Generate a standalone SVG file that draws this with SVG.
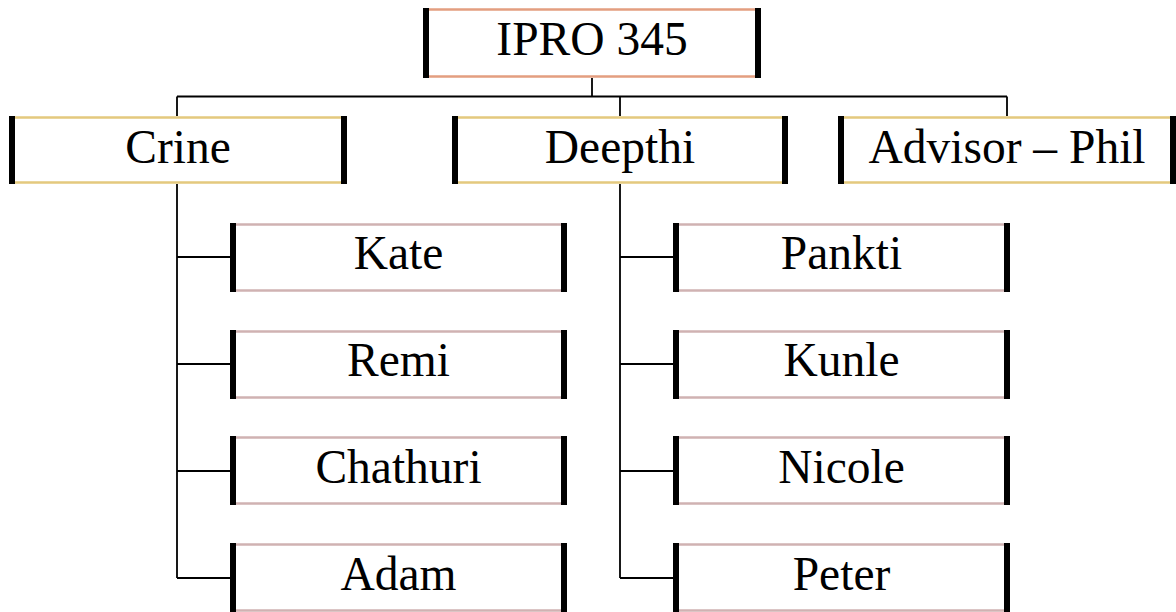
<svg xmlns="http://www.w3.org/2000/svg" width="1176" height="612" viewBox="0 0 1176 612">
<style>
.bg{fill:#ffffff}
.bar{fill:#000000}
.edge{stroke-width:2.5;fill:none}
.salmon{stroke:#E39E80}
.gold{stroke:#E4C97E}
.rose{stroke:#D0B2B2}
.lbl{font-size:47.5px;fill:#000;text-anchor:middle}
.conn{stroke:#000;stroke-width:1.8;fill:none}
</style>
<rect x="0" y="0" width="1176" height="612" fill="#ffffff"/>
<g id="connectors">
<path class="conn" d="M592,78 V96.5 M177,96.5 H1007 M177,96.5 V116 M620,96.5 V116 M1007,96.5 V116"/>
<path class="conn" d="M177,184 V578 M177,257 H231 M177,364 H231 M177,471 H231 M177,578 H231"/>
<path class="conn" d="M620,184 V578 M620,257 H674 M620,364 H674 M620,471 H674 M620,578 H674"/>
</g>
<g font-family="Liberation Serif, Times New Roman, Times, DejaVu Serif, serif">
<g id="ipro">
<rect class="bg" x="423" y="8" width="338" height="70"/>
<path class="edge salmon" d="M429,9.5 H755 M429,76.5 H755"/>
<rect class="bar" x="423" y="8" width="6" height="70"/>
<rect class="bar" x="755" y="8" width="6" height="70"/>
<text class="lbl" x="592" y="55">IPRO 345</text>
</g>
<g id="crine">
<rect class="bg" x="9" y="116" width="338" height="68"/>
<path class="edge gold" d="M15,117.5 H341 M15,182.5 H341"/>
<rect class="bar" x="9" y="116" width="6" height="68"/>
<rect class="bar" x="341" y="116" width="6" height="68"/>
<text class="lbl" x="178" y="163">Crine</text>
</g>
<g id="deepthi">
<rect class="bg" x="452" y="116" width="336" height="68"/>
<path class="edge gold" d="M458,117.5 H782 M458,182.5 H782"/>
<rect class="bar" x="452" y="116" width="6" height="68"/>
<rect class="bar" x="782" y="116" width="6" height="68"/>
<text class="lbl" x="620" y="163">Deepthi</text>
</g>
<g id="advisor">
<rect class="bg" x="838" y="116" width="338" height="68"/>
<path class="edge gold" d="M844,117.5 H1170 M844,182.5 H1170"/>
<rect class="bar" x="838" y="116" width="6" height="68"/>
<rect class="bar" x="1170" y="116" width="6" height="68"/>
<text class="lbl" x="1007" y="163">Advisor – Phil</text>
</g>
<g id="kate">
<rect class="bg" x="230" y="223" width="337" height="69"/>
<path class="edge rose" d="M236,224.5 H561 M236,290.5 H561"/>
<rect class="bar" x="230" y="223" width="6" height="69"/>
<rect class="bar" x="561" y="223" width="6" height="69"/>
<text class="lbl" x="398.5" y="269">Kate</text>
</g>
<g id="remi">
<rect class="bg" x="230" y="330" width="337" height="69"/>
<path class="edge rose" d="M236,331.5 H561 M236,397.5 H561"/>
<rect class="bar" x="230" y="330" width="6" height="69"/>
<rect class="bar" x="561" y="330" width="6" height="69"/>
<text class="lbl" x="398.5" y="376">Remi</text>
</g>
<g id="chathuri">
<rect class="bg" x="230" y="436" width="337" height="69"/>
<path class="edge rose" d="M236,437.5 H561 M236,503.5 H561"/>
<rect class="bar" x="230" y="436" width="6" height="69"/>
<rect class="bar" x="561" y="436" width="6" height="69"/>
<text class="lbl" x="398.5" y="483">Chathuri</text>
</g>
<g id="adam">
<rect class="bg" x="230" y="543" width="337" height="69"/>
<path class="edge rose" d="M236,544.5 H561 M236,610.5 H561"/>
<rect class="bar" x="230" y="543" width="6" height="69"/>
<rect class="bar" x="561" y="543" width="6" height="69"/>
<text class="lbl" x="398.5" y="590">Adam</text>
</g>
<g id="pankti">
<rect class="bg" x="673" y="223" width="337" height="69"/>
<path class="edge rose" d="M679,224.5 H1004 M679,290.5 H1004"/>
<rect class="bar" x="673" y="223" width="6" height="69"/>
<rect class="bar" x="1004" y="223" width="6" height="69"/>
<text class="lbl" x="841.5" y="269">Pankti</text>
</g>
<g id="kunle">
<rect class="bg" x="673" y="330" width="337" height="69"/>
<path class="edge rose" d="M679,331.5 H1004 M679,397.5 H1004"/>
<rect class="bar" x="673" y="330" width="6" height="69"/>
<rect class="bar" x="1004" y="330" width="6" height="69"/>
<text class="lbl" x="841.5" y="376">Kunle</text>
</g>
<g id="nicole">
<rect class="bg" x="673" y="436" width="337" height="69"/>
<path class="edge rose" d="M679,437.5 H1004 M679,503.5 H1004"/>
<rect class="bar" x="673" y="436" width="6" height="69"/>
<rect class="bar" x="1004" y="436" width="6" height="69"/>
<text class="lbl" x="841.5" y="483">Nicole</text>
</g>
<g id="peter">
<rect class="bg" x="673" y="543" width="337" height="69"/>
<path class="edge rose" d="M679,544.5 H1004 M679,610.5 H1004"/>
<rect class="bar" x="673" y="543" width="6" height="69"/>
<rect class="bar" x="1004" y="543" width="6" height="69"/>
<text class="lbl" x="841.5" y="590">Peter</text>
</g>
</g>
</svg>
